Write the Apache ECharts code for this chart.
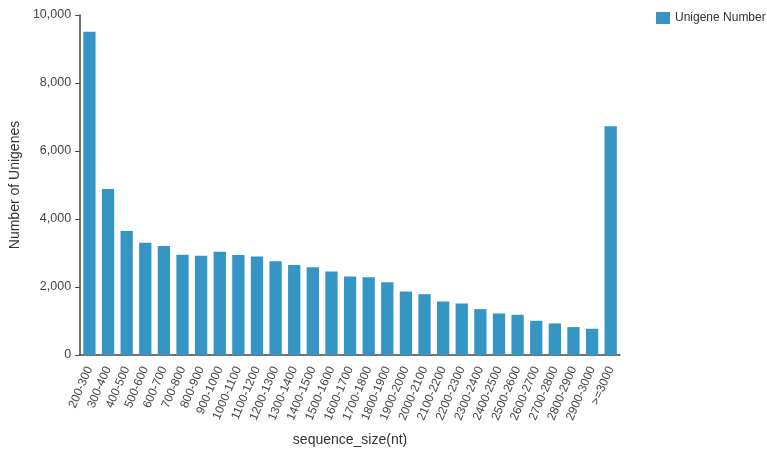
<!DOCTYPE html>
<html>
<head>
<meta charset="utf-8">
<script src="https://cdn.jsdelivr.net/npm/echarts@6/dist/echarts.min.js"></script>
<style>
html,body{margin:0;padding:0;background:#fff;}
#chart{width:767px;height:452px;}
</style>
</head>
<body>
<div id="chart"></div>
<script>
var categories = ["200-300","300-400","400-500","500-600","600-700","700-800","800-900","900-1000","1000-1100","1100-1200","1200-1300","1300-1400","1400-1500","1500-1600","1600-1700","1700-1800","1800-1900","1900-2000","2000-2100","2100-2200","2200-2300","2300-2400","2400-2500","2500-2600","2600-2700","2700-2800","2800-2900","2900-3000",">=3000"];
var unigeneNumber = [9510,4880,3646,3304,3206,2948,2918,3040,2942,2894,2757,2649,2581,2454,2307,2287,2141,1867,1789,1574,1515,1349,1222,1183,1006,929,821,772,6725];
var yTicks = {min:0, max:10000, interval:2000};
var seriesName = "Unigene Number";

var chart = echarts.init(document.getElementById('chart'), null, {renderer:'canvas'});
var font = 'Liberation Sans, Arial, sans-serif';
chart.setOption({
  animation:false,
  textStyle:{fontFamily:font},
  legend:{
    data:[seriesName], left:651, top:7, itemWidth:14, itemHeight:12, itemGap:5,
    textStyle:{fontSize:12, color:'#333', fontFamily:font}, icon:'rect'
  },
  grid:{left:73, right:147, top:15, bottom:96, containLabel:false},
  xAxis:{
    type:'category', data:categories, boundaryGap:true,
    name:'sequence_size(nt)', nameLocation:'middle', nameGap:78,
    nameTextStyle:{fontSize:14, color:'#333', fontFamily:font},
    axisLine:{lineStyle:{color:'#444', width:1.5}},
    axisTick:{alignWithLabel:true, length:5, lineStyle:{color:'#444'}},
    axisLabel:{rotate:67, fontSize:12, color:'#444', margin:12, interval:0, fontFamily:font},
    splitLine:{show:false}
  },
  yAxis:{
    type:'value', min:yTicks.min, max:yTicks.max, interval:yTicks.interval,
    name:'Number of Unigenes', nameLocation:'middle', nameGap:58,
    nameTextStyle:{fontSize:14, color:'#333', fontFamily:font},
    axisLine:{show:true, lineStyle:{color:'#444', width:1.5}},
    axisTick:{show:true, length:5, lineStyle:{color:'#444'}},
    axisLabel:{fontSize:12.5, color:'#444', margin:9, fontFamily:font,
      formatter:function(v){return v.toLocaleString('en-US');}},
    splitLine:{show:false}
  },
  series:[{
    name:seriesName, type:'bar', data:unigeneNumber,
    barCategoryGap:'34%',
    itemStyle:{color:'#3596c3'}
  }]
});
</script>
</body>
</html>
